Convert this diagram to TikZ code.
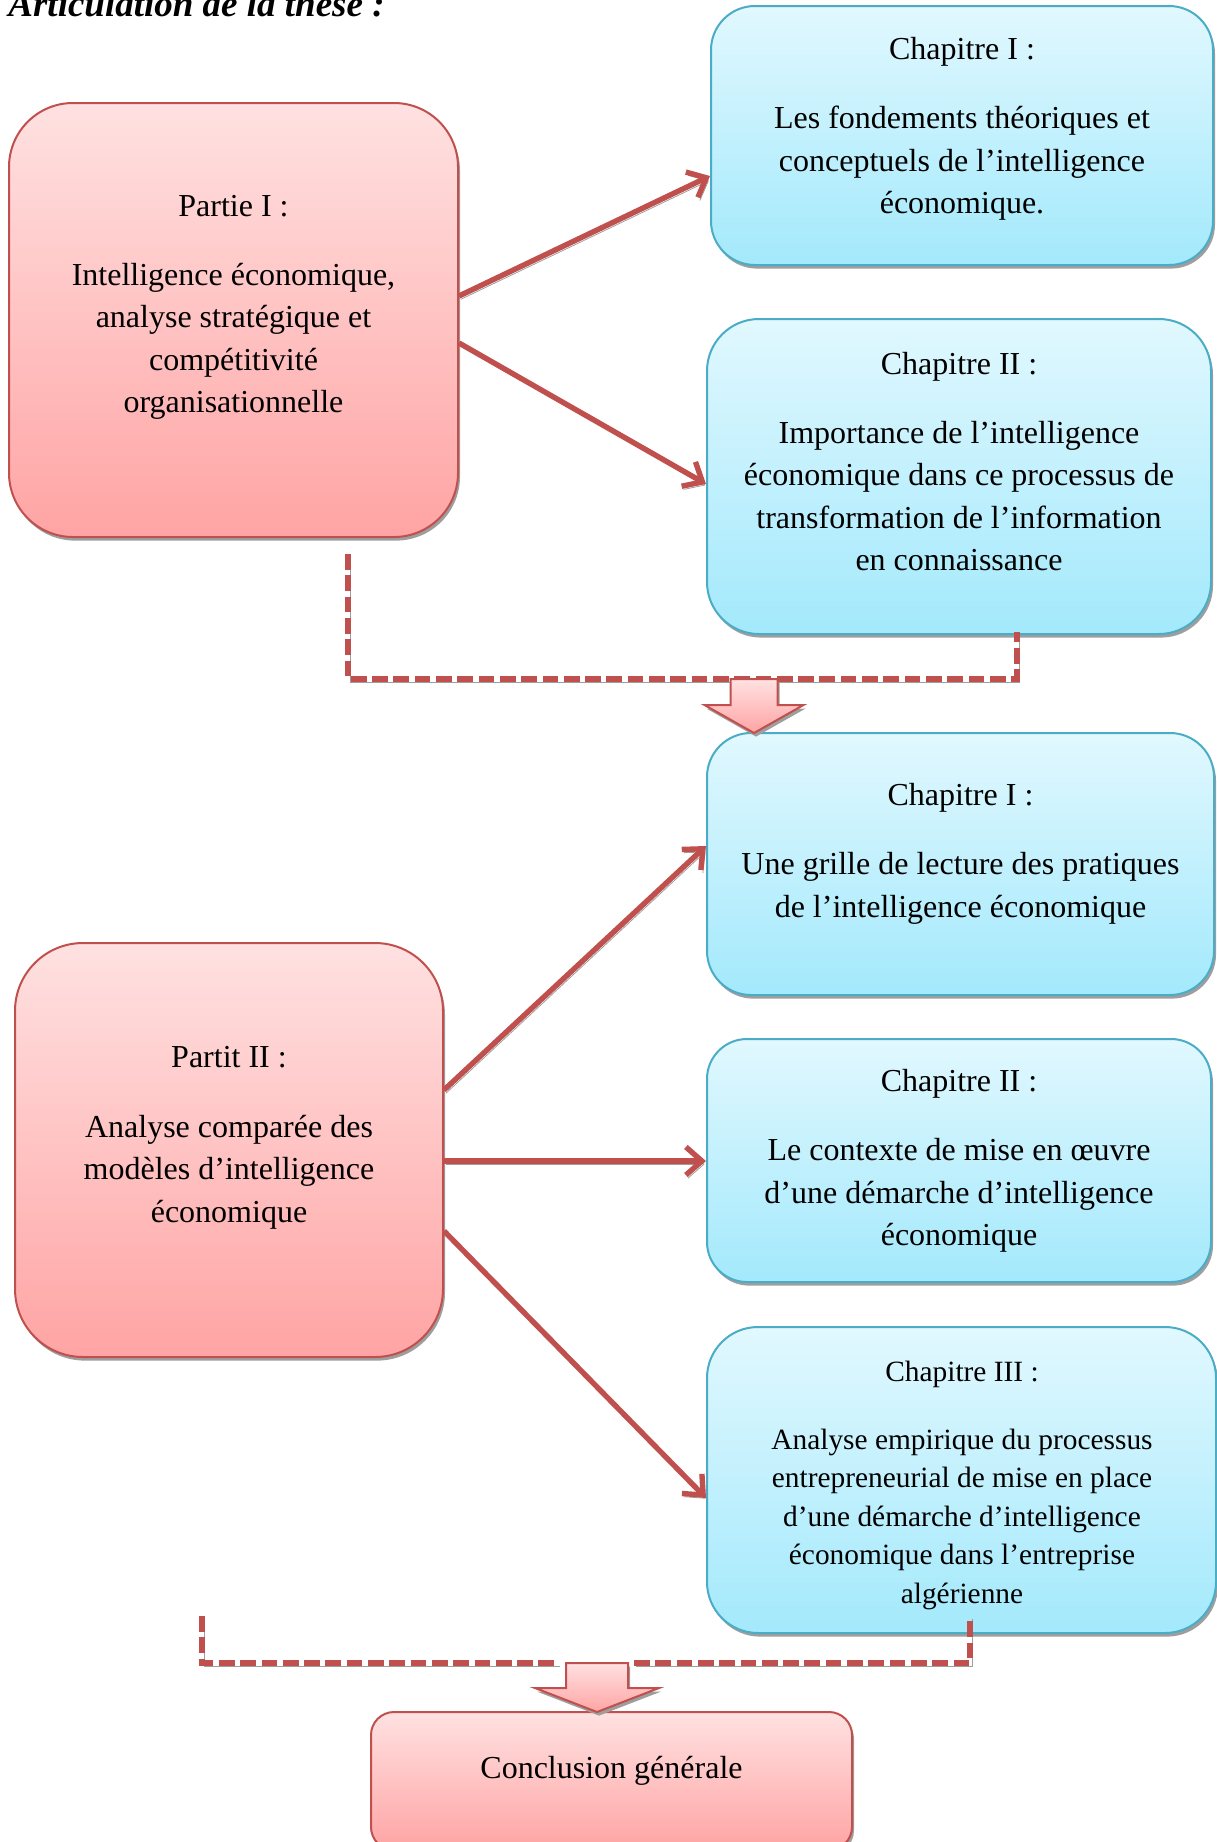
\documentclass[tikz,border=0pt]{standalone}
\usepackage{fontspec}
\setmainfont{Liberation Serif}
\usetikzlibrary{arrows.meta,shadows,calc}

\definecolor{redline}{HTML}{C0504D}
\definecolor{redtop}{HTML}{FFE1E1}
\definecolor{redbot}{HTML}{FFA4A4}
\definecolor{blueline}{HTML}{4BACC6}
\definecolor{bluetop}{HTML}{E1F8FE}
\definecolor{bluebot}{HTML}{A3E9FC}
\definecolor{shadowgray}{HTML}{9E9E9E}

\tikzset{
  boxshadow/.style={drop shadow={shadow xshift=1pt, shadow yshift=-1.8pt, fill=shadowgray, opacity=1}},
  partbox/.style={draw=redline, line width=1pt, top color=redtop, bottom color=redbot,
    boxshadow, rectangle, inner sep=0pt},
  chapbox/.style={draw=blueline, line width=1pt, top color=bluetop, bottom color=bluebot,
    boxshadow, rectangle, inner sep=0pt},
  label16/.style={align=center, inner sep=0pt, font=\fontsize{16}{21.2}\selectfont},
  label15/.style={align=center, inner sep=0pt, font=\fontsize{14.7}{19.25}\selectfont},
  lineshadow/.style={preaction={draw=shadowgray, transform canvas={shift={(1pt,-1.6pt)}}}},
  link/.style={draw=redline, line width=2.7pt, line cap=butt, lineshadow,
    -{Straight Barb[length=8pt,width=14pt]}},
  bracket/.style={draw=redline, line width=3pt, dash pattern=on 7.85pt off 2.8pt, lineshadow},
  blockarrow/.style={draw=redline, line width=1pt, top color=redtop, bottom color=redbot,
    boxshadow, line join=miter},
}

\begin{document}
\begin{tikzpicture}[x=0.5pt, y=-0.5pt]
\useasboundingbox (0,0) rectangle (1216,1842);

% heading
\node[anchor=base west, inner sep=0pt, font=\fontsize{18.5}{22}\selectfont\bfseries\itshape]
  (title) at (8,16) {Articulation de la thèse :};

% part and chapter boxes
\node[partbox, minimum width=224.5pt, minimum height=217pt, rounded corners=32pt] (p1) at (233.5,320) {};
\node[chapbox, minimum width=251pt, minimum height=129.5pt, rounded corners=22pt] (c1) at (962,135.5) {};
\node[chapbox, minimum width=252pt, minimum height=157.5pt, rounded corners=26pt] (c2) at (959,476.5) {};
\node[chapbox, minimum width=253.5pt, minimum height=131pt, rounded corners=22pt] (c3) at (960.5,864) {};
\node[partbox, minimum width=214pt, minimum height=207pt, rounded corners=34pt] (p2) at (229,1150) {};
\node[chapbox, minimum width=252pt, minimum height=121.5pt, rounded corners=20pt] (c4) at (959,1160.5) {};
\node[chapbox, minimum width=254.5pt, minimum height=153pt, rounded corners=25.5pt] (c5) at (961.5,1480) {};
\node[partbox, minimum width=240.5pt, minimum height=69pt, rounded corners=11.5pt] (cg) at (611.5,1781) {};

% box texts
\node[label16] (p1t) at (233.5,306) {\strut Partie I :\\[13.5pt] Intelligence économique,\\ analyse stratégique et\\ compétitivité\\ organisationnelle\strut};
\node[label16] (c1t) at (962,128) {\strut Chapitre I :\\[13.5pt] Les fondements théoriques et\\ conceptuels de l’intelligence\\ économique.\strut};
\node[label16] (c2t) at (959,464) {\strut Chapitre II :\\[13.5pt] Importance de l’intelligence\\ économique dans ce processus de\\ transformation de l’information\\ en connaissance\strut};
\node[label16] (c3t) at (960.5,853) {\strut Chapitre I :\\[13.5pt] Une grille de lecture des pratiques\\ de l’intelligence économique\strut};
\node[label16] (p2t) at (229,1136.5) {\strut Partit II :\\[13.5pt] Analyse comparée des\\ modèles d’intelligence\\ économique\strut};
\node[label16] (c4t) at (959,1160) {\strut Chapitre II :\\[13.5pt] Le contexte de mise en œuvre\\ d’une démarche d’intelligence\\ économique\strut};
\node[label15] (c5t) at (962,1485) {\strut Chapitre III :\\[14.5pt] Analyse empirique du processus\\ entrepreneurial de mise en place\\ d’une démarche d’intelligence\\ économique dans l’entreprise\\ algérienne\strut};
\node[label16] (cgt) at (611.5,1770) {\strut Conclusion générale\strut};

% links from the parts to their chapters
\draw[link] ([yshift=12pt]p1.east) -- ([yshift=-20.25pt]c1.west);
\draw[link] ([yshift=-11.5pt]p1.east) -- ([yshift=-3.75pt]c2.west);
\draw[link] ([yshift=30pt]p2.east) -- ([yshift=9pt]c3.west);
\draw[link] ([yshift=-5.5pt]p2.east) -- ([yshift=-5.5pt]p2.east -| c4.west);
\draw[link] ([yshift=-40.5pt]p2.east) -- ([yshift=-9pt]c5.west);

% first dashed bracket and block arrow
\coordinate (ua) at (754,679);
\coordinate (u1) at (348,554);
\coordinate (u2) at ([xshift=29pt, yshift=1.5pt]c2.south);
\draw[bracket] (u1) -- (u1 |- ua) -- (u2 |- ua) -- (u2);
\draw[blockarrow, shift={(ua)}] (-23.5,0) -- (23.5,0) -- (23.5,26) -- (49.5,26)
  -- (0,54) -- (-49.5,26) -- (-23.5,26) -- cycle;

% second dashed bracket and block arrow
\coordinate (la) at (597,1663);
\coordinate (l1) at (202,1616);
\coordinate (l2) at (970,1616);
\draw[bracket] (l1) -- (l1 |- la) -- ([xshift=-19.5pt]la);
\draw[bracket] ([xshift=18.5pt]la) -- (l2 |- la) -- (l2);
\draw[blockarrow, shift={(la)}] (-31,0) -- (31,0) -- (31,25) -- (62,25)
  -- (0,49) -- (-62,25) -- (-31,25) -- cycle;
\end{tikzpicture}
\end{document}
